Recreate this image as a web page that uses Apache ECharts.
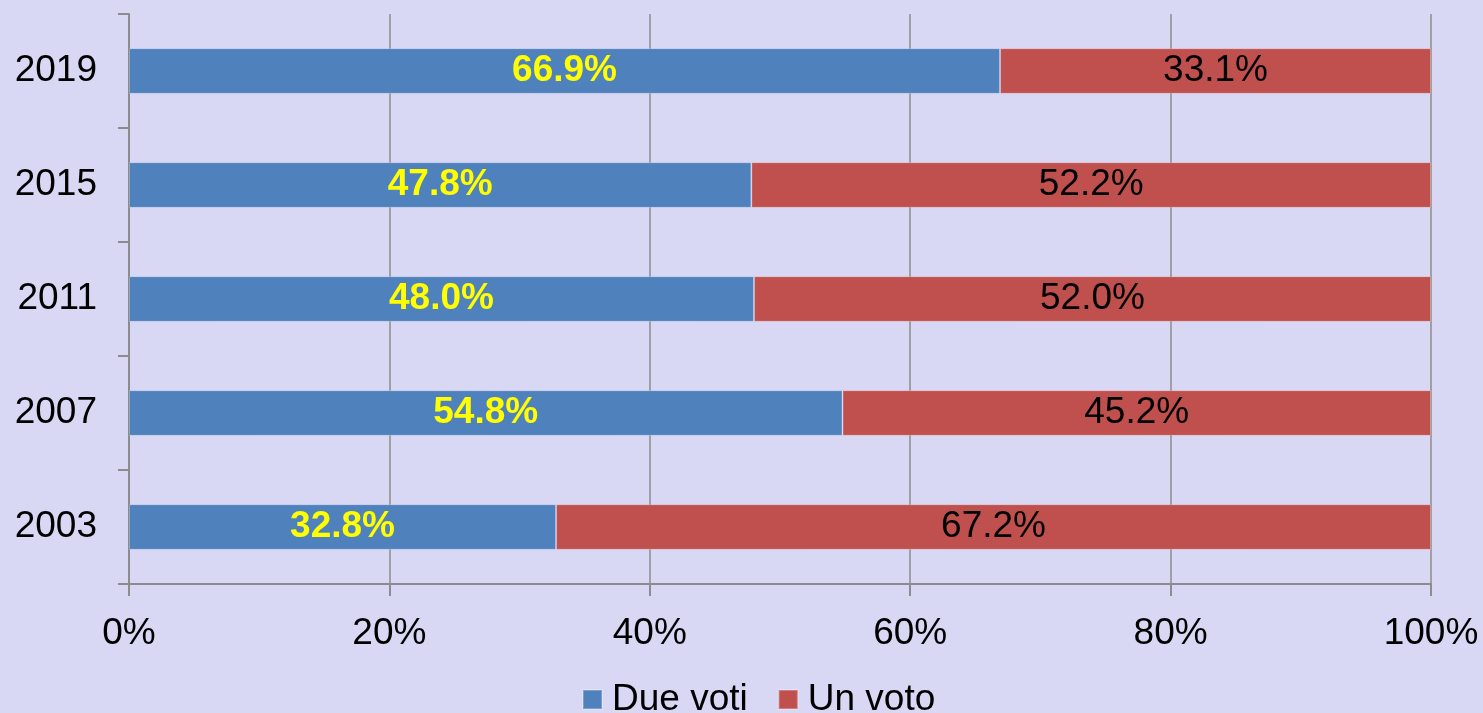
<!DOCTYPE html>
<html>
<head>
<meta charset="utf-8">
<script src="https://cdn.jsdelivr.net/npm/echarts@6/dist/echarts.min.js"></script>
<style>
  html, body { margin: 0; padding: 0; background: #D8D8F4; }
  #chart { width: 1483px; height: 713px; }
</style>
</head>
<body>
<div id="chart"></div>
<script>
// Election years, bottom to top
const years = ['2003', '2007', '2011', '2015', '2019'];
// Share of voters casting two votes vs one vote (%)
const dueVoti = [32.8, 54.8, 48.0, 47.8, 66.9];
const unVoto = [67.2, 45.2, 52.0, 52.2, 33.1];
const xTicks = [0, 20, 40, 60, 80, 100];

const FONT = '"Liberation Sans", Arial, sans-serif';
const FS = 37;
const chart = echarts.init(document.getElementById('chart'));

chart.setOption({
  backgroundColor: '#D8D8F4',
  animation: false,
  grid: { left: 129, right: 52, top: 14, bottom: 129, containLabel: false },
  legend: {
    data: ['Due voti', 'Un voto'],
    top: 681,
    left: 582,
    padding: 0,
    itemWidth: 19,
    itemHeight: 19,
    itemGap: 30,
    icon: 'rect',
    textStyle: { fontFamily: FONT, fontSize: FS, color: '#000', padding: [0, 0, 0, 5] }
  },
  xAxis: {
    type: 'value',
    min: 0,
    max: 100,
    interval: 20,
    axisLine: { show: true, lineStyle: { color: '#8C8C8C', width: 2 } },
    axisTick: { show: true, length: 12, lineStyle: { color: '#8C8C8C', width: 2 } },
    splitLine: { show: true, lineStyle: { color: '#8C8C8C', width: 1.5 } },
    axisLabel: {
      margin: 31,
      fontFamily: FONT,
      fontSize: FS,
      color: '#000',
      formatter: v => xTicks.includes(v) ? v + '%' : ''
    }
  },
  yAxis: {
    type: 'category',
    data: years,
    axisLine: { show: true, lineStyle: { color: '#8C8C8C', width: 2 } },
    axisTick: { show: true, length: 11, lineStyle: { color: '#8C8C8C', width: 2 } },
    splitLine: { show: false },
    axisLabel: { margin: 32, fontFamily: FONT, fontSize: FS, color: '#000' }
  },
  series: [
    {
      name: 'Due voti',
      type: 'bar',
      stack: 'tot',
      barWidth: '40%',
      data: dueVoti,
      itemStyle: { color: '#4F81BD', borderColor: 'rgba(255,255,255,0.25)', borderWidth: 1 },
      label: {
        show: true,
        position: 'inside',
        fontFamily: FONT,
        fontSize: FS,
        fontWeight: 'bold',
        color: '#FFFF00',
        formatter: p => p.value.toFixed(1) + '%'
      }
    },
    {
      name: 'Un voto',
      type: 'bar',
      stack: 'tot',
      barWidth: '40%',
      data: unVoto,
      itemStyle: { color: '#C0504D', borderColor: 'rgba(255,255,255,0.25)', borderWidth: 1 },
      label: {
        show: true,
        position: 'inside',
        fontFamily: FONT,
        fontSize: FS,
        color: '#000',
        formatter: p => p.value.toFixed(1) + '%'
      }
    }
  ]
});
</script>
</body>
</html>
